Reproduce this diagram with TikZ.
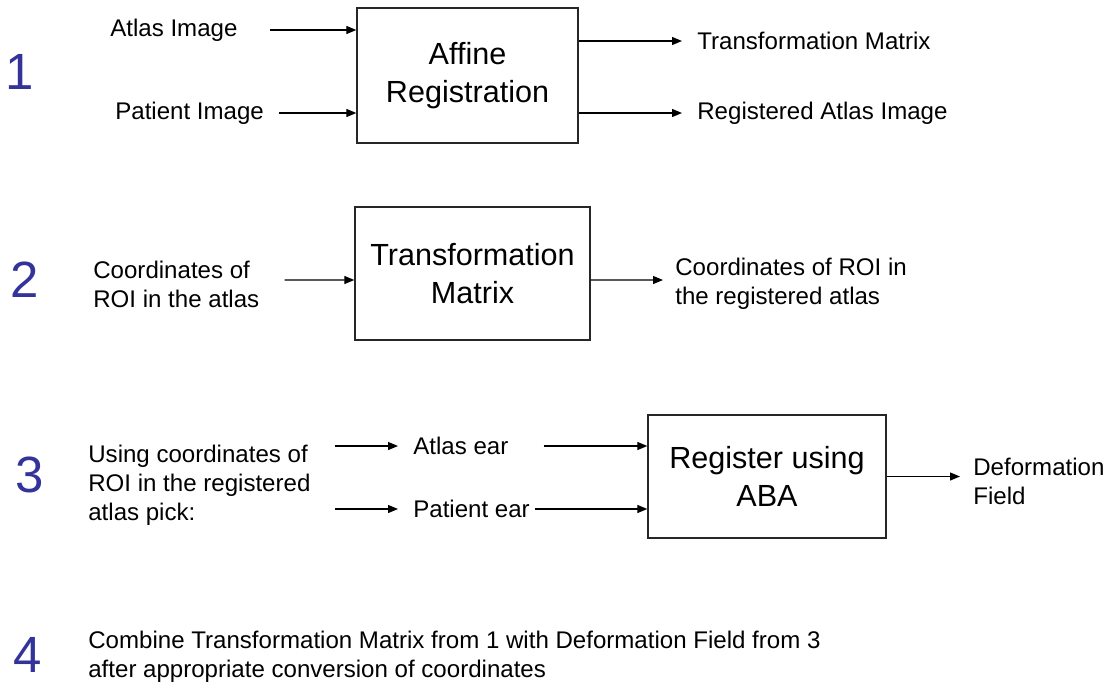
\documentclass[tikz,border=0pt]{standalone}
\usepackage{fontspec}
\setmainfont{Liberation Sans}
\usepackage{tikz}
\usetikzlibrary{arrows.meta,positioning,calc}
\definecolor{numblue}{RGB}{51,51,153}
\tikzset{
  procbox/.style={draw=black!85, line width=0.8pt, align=center,
    font=\fontsize{17.4}{21.6}\selectfont},
  lbl/.style={inner sep=0pt, anchor=west, align=left,
    font=\fontsize{13.7}{16.5}\selectfont},
  stepnum/.style={inner sep=0pt, text=numblue,
    font=\fontsize{29}{30}\selectfont},
  arr/.style={-{Triangle[length=2mm,width=1.6mm]}, line width=0.7pt},
}

\begin{document}
\begin{tikzpicture}[x=0.02cm, y=-0.02cm]
  \useasboundingbox (0,0) rectangle (1113,687);

  % Step 1
  \node[stepnum] (n1) at (20,72) {1};
  \node[procbox, minimum width=4.42cm, minimum height=2.7cm] (aff) at (467.5,75.5)
    {Affine\\Registration};
  \node[lbl] (atlasimg) at (110,30) {Atlas Image};
  \node[lbl] (patimg) at (115,113) {Patient Image};
  \node[lbl] (tmout) at (697,41) {Transformation Matrix};
  \node[lbl] (regout) at (697,113) {Registered Atlas Image};

  \draw[arr] ([xshift=0.65cm]atlasimg.east) -- (atlasimg -| aff.west);
  \draw[arr] ([xshift=0.3cm]patimg.east) -- (patimg -| aff.west);
  \draw[arr] (aff.east |- tmout) -- ([xshift=-0.3cm]tmout.west);
  \draw[arr] (aff.east |- regout) -- ([xshift=-0.3cm]regout.west);

  % Step 2
  \node[stepnum] (n2) at (25,280) {2};
  \node[procbox, minimum width=4.7cm, minimum height=2.66cm] (tmat) at (472.5,273.5)
    {Transformation\\Matrix};
  \node[lbl] (roiatlas) at (93,284) {Coordinates of\\ROI in the atlas};
  \node[lbl] (roireg) at (675,284) {Coordinates of ROI in\\the registered atlas};

  \draw[arr] ([xshift=0.5cm,yshift=0.08cm]roiatlas.east) -- ($(tmat.west)+(0,6.5)$);
  \draw[arr] ($(tmat.east)+(0,6.5)$) -- ([xshift=-0.24cm,yshift=0.08cm]roireg.west);

  % Step 3
  \node[stepnum] (n3) at (30,475) {3};
  \node[procbox, minimum width=4.76cm, minimum height=2.46cm] (aba) at (767,476.5)
    {Register using\\ABA};
  \node[lbl] (pick) at (88,485) {Using coordinates of\\ROI in the registered\\atlas pick:};
  \node[lbl] (atlasear) at (413,446) {Atlas ear};
  \node[lbl] (patear) at (413,509) {Patient ear};
  \node[lbl] (deform) at (973,481) {Deformation\\Field};

  \draw[arr] ([xshift=-1.56cm]atlasear.west) -- ([xshift=-0.3cm]atlasear.west);
  \draw[arr] ([xshift=-1.56cm]patear.west) -- ([xshift=-0.3cm]patear.west);
  \draw[arr] ([xshift=0.7cm]atlasear.east) -- (atlasear -| aba.west);
  \draw[arr] ([xshift=0.1cm]patear.east) -- (patear -| aba.west);
  \draw[arr] (aba.east) -- ($(aba.east -| deform.west)+(-13,0)$);

  % Step 4
  \node[stepnum] (n4) at (28,655) {4};
  \node[lbl] (combine) at (88,657)
    {Combine Transformation Matrix from 1 with Deformation Field from 3\\
     after appropriate conversion of coordinates};
\end{tikzpicture}
\end{document}
